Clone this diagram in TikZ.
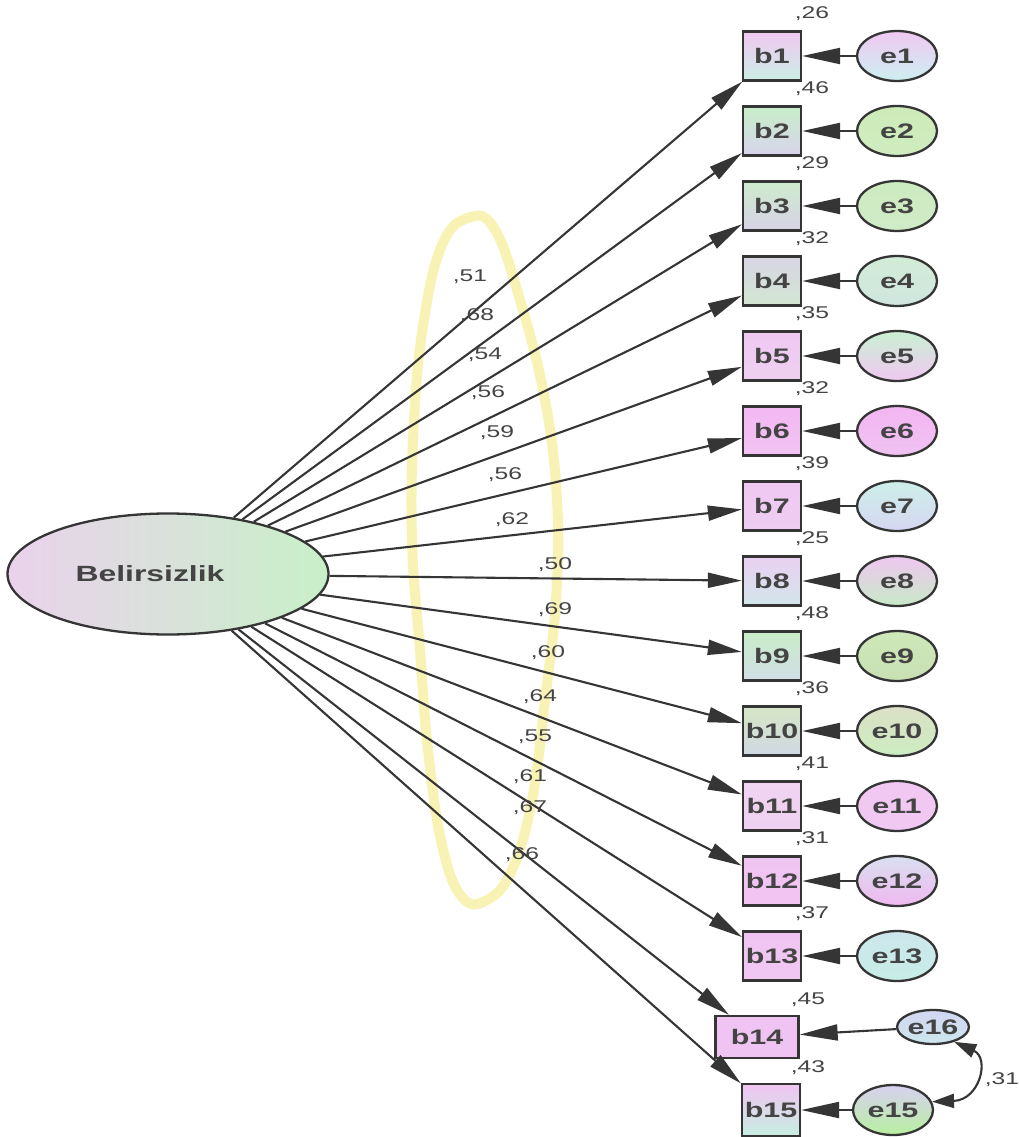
\documentclass[tikz,border=0pt]{standalone}
\usepackage{fontspec}
\setmainfont{Liberation Sans}[FakeStretch=1.45]
\usetikzlibrary{arrows.meta,shapes.geometric}
\definecolor{ln}{HTML}{353535}
\definecolor{txt}{HTML}{444444}
\definecolor{hl}{HTML}{F8F3B4}
\begin{document}
\begin{tikzpicture}[x=1pt,y=-1pt,
  obs/.style={draw=ln, line width=2.3pt, minimum width=58pt, minimum height=49pt, inner sep=0pt, font=\fontsize{21}{24}\selectfont\bfseries, text=txt},
  err/.style={ellipse, draw=ln, line width=2.3pt, minimum width=80pt, minimum height=50pt, inner sep=0pt, font=\fontsize{21}{24}\selectfont\bfseries, text=txt},
  load/.style={draw=ln, line width=2.1pt, -{Triangle[length=34pt,width=15pt]}},
  eload/.style={draw=ln, line width=2.1pt, -{Triangle[length=38pt,width=16pt]}},
  num/.style={font=\fontsize{17}{19}\selectfont, text=txt, inner sep=0pt}]
\fill[white] (0,0) rectangle (1019,1137);
\useasboundingbox (0,0) rectangle (1019,1137);
% yellow highlighter loop
\draw[hl, line width=10pt, line join=round] plot[smooth cycle, tension=0.7] coordinates {(468,218) (494,228) (520,300) (545,400) (557,500) (556,600) (545,700) (532,800) (512,870) (487,900) (462,897) (442,845) (428,750) (420,650) (412,540) (414,420) (424,320) (442,245)};
% latent
\node[ellipse, draw=ln, line width=2.3pt, minimum width=321pt, minimum height=121pt, inner sep=0pt,
      left color={rgb,255:red,234;green,210;blue,236}, middle color={rgb,255:red,214;green,238;blue,210}, right color={rgb,255:red,200;green,240;blue,200},
      font=\fontsize{22}{26}\selectfont\bfseries, text=txt] (L) at (168,574) {Belirsizlik\hspace*{36pt}};
% observed and errors
\foreach \i/\bt/\bb/\et/\eb in {1/F0C8F2/CCEEE4/F0C8F2/CDEFF0, 2/C8EEC8/D8D4EC/CDEBB8/D0ECC0, 3/CDEBCD/D8D2E6/CDEBC0/CFEBC8, 4/D8D6E4/D2E6D2/D2ECD6/D0E6E0, 5/F0C8F2/EED0F0/C9F0D2/F0C8F2, 6/F2B8F2/F2C4F2/F2B6F2/F0C2F2, 7/F0C8F2/EECDF2/CDEFE8/D6D6F2, 8/EAD0F2/D2E6EA/EFC6F0/C8EAC8, 9/C8ECC8/D2DEE6/CFE8B8/C8E0B4, 10/D6E6C6/D0D8E2/DCE0C6/CCECC0, 11/F0D4F0/EED0F0/F0C8F2/F0C8F2, 12/F0C4F0/F2C4F2/D8E0F0/F0B8F0, 13/F0C4F2/F0C8F2/CCE6EC/C8EDE6}{
  \definecolor{bt}{HTML}{\bt}\definecolor{bb}{HTML}{\bb}
  \definecolor{et}{HTML}{\et}\definecolor{eb}{HTML}{\eb}
  \node[obs, top color=bt, bottom color=bb] (b\i) at (772,{56+75*(\i-1)}) {b\i};
  \node[err, top color=et, bottom color=eb] (e\i) at (897,{56+75*(\i-1)}) {e\i};
  \draw[eload] (e\i) -- (b\i);
}
\definecolor{pk}{HTML}{F0C4F2}
\definecolor{cy}{HTML}{C6EEE0}
\node[obs, minimum width=83pt, minimum height=42pt, top color=pk, bottom color=pk] (b14) at (757,1037) {b14};
\node[obs, minimum height=52pt, top color=pk, bottom color=cy] (b15) at (771,1110) {b15};
\node[err, minimum width=48pt, minimum height=34pt, top color={rgb,255:red,210;green,214;blue,242}, bottom color={rgb,255:red,205;green,230;blue,236}] (e16) at (933,1027) {e16};
\node[err, top color={rgb,255:red,216;green,208;blue,240}, bottom color={rgb,255:red,184;green,240;blue,160}] (e15) at (893,1110) {e15};
\draw[eload] (e16) -- (b14);
\draw[eload] (e15) -- (b15);
\draw[draw=ln, line width=2.1pt, {Triangle[length=22pt,width=14pt]}-{Triangle[length=22pt,width=14pt]}]
  (e15.12) .. controls (980,1100) and (990,1058) .. (e16.-35);
% loadings
\foreach \i in {1,...,15}{ \draw[load] (L) -- (b\i); }
% loading labels
\foreach \n/\x/\y/\t in {l1/470/277/51, l2/477/316/68, l3/485/355/54, l4/488/393/56, l5/497/433/59, l6/505/475/56, l7/512/520/62, l8/555/565/50, l9/555/610/69, l10/548/653/60, l11/540/697/64, l12/535/737/55, l13/530/777/61, l14/530/808/67, l15/522/855/66}{
  \node[num] (\n) at (\x,\y) {,\t};
}
% squared multiple correlations
\foreach \i/\t in {1/26, 2/46, 3/29, 4/32, 5/35, 6/32, 7/39, 8/25, 9/48, 10/36, 11/41, 12/31, 13/37}{
  \node[num] (r\i) at (812,{14+75*(\i-1)}) {,\t};
}
\node[num] (r14) at (808,1000) {,45};
\node[num] (r15) at (808,1068) {,43};
\node[num] (cov) at (1002,1080) {,31};
\end{tikzpicture}
\end{document}
